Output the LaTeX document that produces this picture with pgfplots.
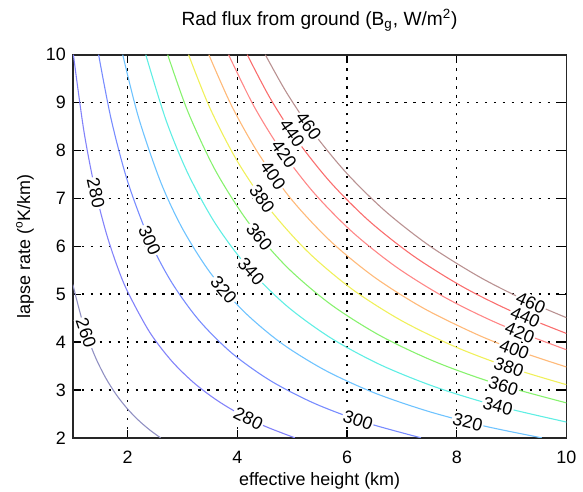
\documentclass[border=0pt]{standalone}
\usepackage{pgfplots}
\pgfplotsset{compat=1.18}
\usepackage{fontspec}
\setmainfont{Liberation Sans}

\definecolor{c260}{RGB}{145,145,195}
\definecolor{c280}{RGB}{130,130,250}
\definecolor{c300}{RGB}{120,140,255}
\definecolor{c320}{RGB}{110,195,255}
\definecolor{c340}{RGB}{95,238,228}
\definecolor{c360}{RGB}{135,242,110}
\definecolor{c380}{RGB}{240,240,90}
\definecolor{c400}{RGB}{255,185,120}
\definecolor{c420}{RGB}{255,135,135}
\definecolor{c440}{RGB}{250,110,110}
\definecolor{c460}{RGB}{185,145,145}

\begin{document}
\begin{tikzpicture}
\begin{axis}[
  name=ax,
  width=248pt, height=192.5pt, scale only axis,
  xmin=1, xmax=10, ymin=2, ymax=10,
  xtick={2,4,6,8,10}, ytick={2,3,...,10},
  font=\fontsize{9}{10}\selectfont,
  /pgf/number format/assume math mode=true,
  axis line style={line width=0.9pt, black!85},
  tick align=inside, major tick length=4pt,
  tick style={black, line width=0.6pt},
  xticklabel style={yshift=-3pt},
  grid=major,
  grid style={black, line width=0.75pt, dash pattern=on 1.2pt off 3.3pt},
  title={Rad flux from ground (B\textsubscript{g}, W/m\textsuperscript{2})},
  title style={at={(axis description cs:0.5,1.058)}, anchor=center, inner sep=0pt,
    font=\fontsize{9.6}{10}\selectfont},
  xlabel={effective height (km)},
  xlabel style={at={(axis description cs:0.5,-0.112)}, anchor=center, inner sep=0pt},
  ylabel={lapse rate (\textsuperscript{o}K/km)},
  ylabel style={at={(axis description cs:-0.097,0.5)}, anchor=center, inner sep=0pt},
  every axis plot/.append style={line width=0.55pt, smooth},
]
% 260
\addplot[c260] coordinates {(1,5.2) (1.2,4.333) (1.4,3.714) (1.6,3.25) (1.8,2.889) (2.0,2.6) (2.2,2.364) (2.4,2.167) (2.6,2.0)};
% 280
\addplot[c280] coordinates {(1.01,10) (1.2,8.417) (1.4,7.214) (1.6,6.313) (1.8,5.611) (2.0,5.05) (2.4,4.208) (2.8,3.607) (3.2,3.156) (3.6,2.806) (4.0,2.525) (4.5,2.244) (5.05,2.0)};
% 300
\addplot[c300] coordinates {(1.47,10) (1.7,8.647) (2.0,7.35) (2.4,6.125) (2.8,5.25) (3.3,4.455) (3.9,3.769) (4.6,3.196) (5.4,2.722) (6.3,2.333) (7.35,2.0)};
% 320
\addplot[c320] coordinates {(1.91,10) (2.2,8.682) (2.6,7.346) (3.0,6.367) (3.5,5.457) (4.1,4.659) (4.8,3.979) (5.6,3.411) (6.5,2.938) (7.5,2.547) (8.5,2.247) (9.55,2.0)};
% 340
\addplot[c340] coordinates {(2.33,10) (2.7,8.630) (3.1,7.516) (3.6,6.472) (4.2,5.548) (4.9,4.755) (5.7,4.088) (6.6,3.530) (7.6,3.066) (8.7,2.678) (10,2.33)};
% 360
\addplot[c360] coordinates {(2.73,10) (3.1,8.806) (3.6,7.583) (4.2,6.5) (4.9,5.571) (5.7,4.789) (6.6,4.136) (7.6,3.592) (8.7,3.138) (10,2.73)};
% 380
\addplot[c380] coordinates {(3.11,10) (3.5,8.886) (4.0,7.775) (4.6,6.761) (5.3,5.868) (6.1,5.098) (7.0,4.443) (8.0,3.888) (9.0,3.456) (10,3.11)};
% 400
\addplot[c400] coordinates {(3.48,10) (3.9,8.923) (4.4,7.909) (5.0,6.96) (5.7,6.105) (6.5,5.354) (7.4,4.703) (8.4,4.143) (9.2,3.783) (10,3.48)};
% 420
\addplot[c420] coordinates {(3.84,10) (4.3,8.930) (4.8,8.0) (5.4,7.111) (6.1,6.295) (6.9,5.565) (7.8,4.923) (8.8,4.364) (10,3.84)};
% 440
\addplot[c440] coordinates {(4.18,10) (4.6,9.087) (5.1,8.196) (5.7,7.333) (6.4,6.531) (7.2,5.806) (8.1,5.160) (9.0,4.644) (10,4.18)};
% 460
\addplot[c460] coordinates {(4.51,10) (4.9,9.204) (5.4,8.352) (6.0,7.517) (6.7,6.731) (7.5,6.013) (8.4,5.369) (9.2,4.902) (10,4.51)};

% contour labels
\addplot[draw=none, mark=none, nodes near coords, point meta=explicit symbolic,
  visualization depends on={value \thisrow{ang}\as\ang},
  every node near coord/.append style={anchor=center, rotate=\ang, fill=white,
    inner sep=0.6pt, font=\fontsize{9}{10}\selectfont}]
  table[meta=lab] {
x     y      ang    lab
5.30  8.51   -54.5  460
5.00  8.36   -55.6  440
4.85  7.92   -54.9  420
4.65  7.48   -54.6  400
4.45  6.99   -53.9  380
4.40  6.20   -50.9  360
4.25  5.48   -48.4  340
3.75  5.09   -49.9  320
2.40  6.125  -65.8  300
1.42  7.11   -77.1  280
1.24  4.19   -71.3  260
4.20  2.405  -26.6  280
6.20  2.371  -18.5  300
8.20  2.329  -13.9  320
8.75  2.663  -14.9  340
8.85  3.085  -16.9  360
8.95  3.475  -18.7  380
9.05  3.845  -20.3  400
9.15  4.197  -21.8  420
9.25  4.519  -23.1  440
9.35  4.824  -24.2  460
};
\end{axis}
% page extent around the axis, as in the reference
\path (ax.south west) ++(-36.6pt,-27pt) (ax.north east) ++(7.5pt,27.5pt);
\end{tikzpicture}
\end{document}
